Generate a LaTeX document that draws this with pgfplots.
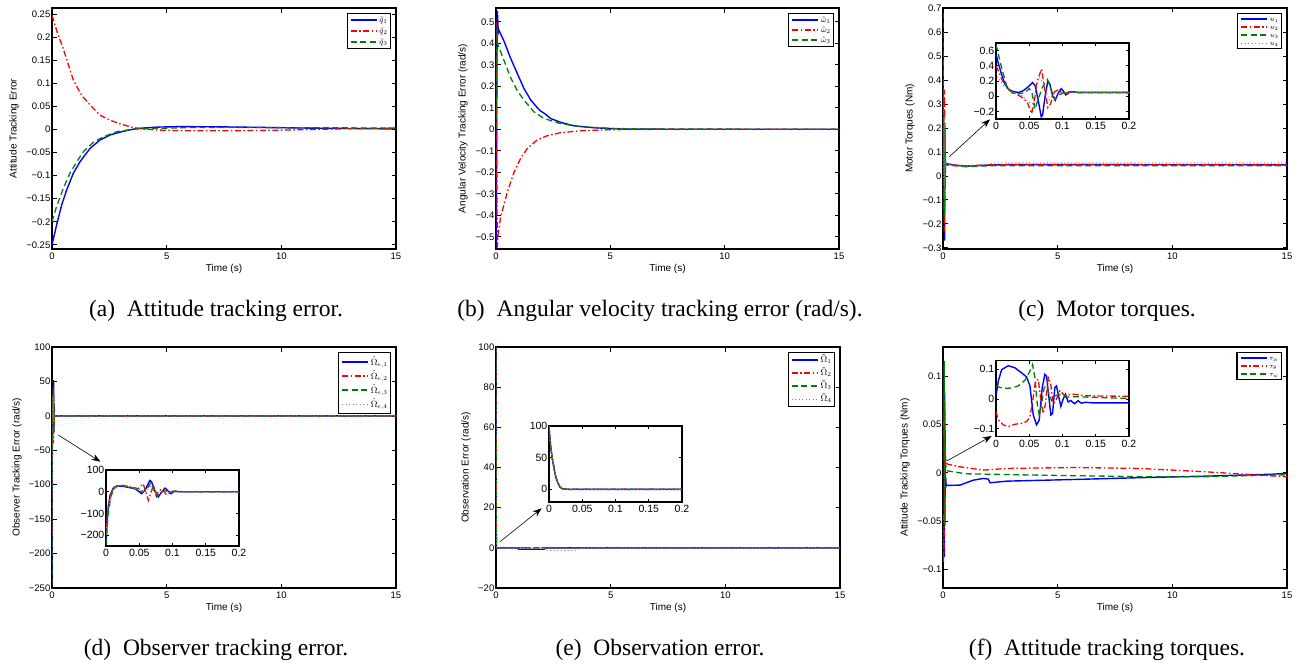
\documentclass[border=0pt]{standalone}
\usepackage[no-math]{fontspec}
\setmainfont{Liberation Sans}
\newfontfamily\capfont{Liberation Serif}
\usepackage{pgfplots}
\pgfplotsset{compat=1.18}
\usepackage{pgfplotstable}
\usetikzlibrary{arrows.meta}
\definecolor{mgreen}{rgb}{0,0.5,0}

% ---------- data (t, value) ----------
\pgfplotstableread{
t v
0 -0.250
0.2 -0.207
0.42 -0.164
0.64 -0.131
0.93 -0.095
1.22 -0.070
1.66 -0.041
2.09 -0.023
2.53 -0.012
3.11 -0.004
3.69 0.002
4.56 0.005
5.5 0.006
7 0.0058
9 0.0045
11 0.003
13 0.002
15 0.001
}\tabaB
\pgfplotstableread{
t v
0 0.247
0.2 0.215
0.49 0.175
0.93 0.107
1.29 0.074
1.66 0.053
2.09 0.031
2.53 0.020
2.97 0.012
3.55 0.004
3.98 0.0007
4.7 -0.0015
6 -0.003
8 -0.003
10 -0.0015
12 0.0005
13.5 0.002
15 0.003
}\tabaR
\pgfplotstableread{
t v
0 -0.200
0.2 -0.167
0.49 -0.128
0.78 -0.095
1.08 -0.070
1.37 -0.048
1.8 -0.028
2.24 -0.016
2.82 -0.005
3.55 0.0007
4.27 0.002
6 0.004
9 0.004
12 0.0035
15 0.003
}\tabaG

\pgfplotstableread{
t v
0 -0.55
0.02 -0.3
0.04 0.3
0.06 0.55
0.08 0.50
0.10 0.45
0.13 0.46
0.35 0.41
0.64 0.33
0.93 0.26
1.22 0.19
1.52 0.136
1.85 0.095
1.95 0.085
2.1 0.075
2.39 0.05
2.83 0.032
3.41 0.016
4.29 0.007
5.5 0.001
8 0
15 0
}\tabbB
\pgfplotstableread{
t v
0 0.50
0.02 0.3
0.04 -0.3
0.06 -0.55
0.09 -0.49
0.2 -0.41
0.5 -0.29
0.79 -0.20
1.08 -0.135
1.37 -0.089
1.8 -0.05
2.24 -0.03
2.83 -0.016
3.7 -0.007
5 -0.002
7 0
15 0
}\tabbR
\pgfplotstableread{
t v
0 0
0.03 0.35
0.05 0.47
0.07 0.40
0.09 0.39
0.35 0.32
0.64 0.24
0.93 0.18
1.22 0.136
1.66 0.081
2.1 0.05
2.83 0.026
3.7 0.012
5 0.004
6.5 0.001
15 0
}\tabbG

\pgfplotstableread{
t v
0 0.56
0.0035 0.43
0.0085 0.285
0.0135 0.157
0.0185 0.094
0.026 0.06
0.034 0.05
0.041 0.072
0.049 0.128
0.055 0.18
0.059 0.136
0.063 -0.034
0.068 -0.27
0.070 -0.25
0.074 0.01
0.078 0.20
0.081 0.157
0.085 0.01
0.089 -0.055
0.093 0.03
0.098 0.10
0.101 0.07
0.105 0.017
0.109 0.043
0.114 0.06
0.124 0.05
0.2 0.05
0.5 0.045
1 0.040
2 0.045
3 0.047
15 0.046
}\tabcB
\pgfplotstableread{
t v
0 0.40
0.005 0.30
0.01 0.2
0.02 0.08
0.03 0.03
0.04 -0.02
0.047 -0.08
0.0535 -0.23
0.057 -0.1
0.062 0.2
0.0685 0.36
0.073 0.1
0.078 -0.15
0.082 -0.1
0.088 0.06
0.093 0.08
0.1 0.04
0.11 0.05
0.2 0.047
0.5 0.045
1 0.042
2 0.046
3 0.047
15 0.047
}\tabcR
\pgfplotstableread{
t v
0 0.68
0.0085 0.37
0.016 0.136
0.024 0.043
0.034 0.03
0.044 0.05
0.05 0.1
0.054 0.05
0.0585 -0.17
0.063 -0.05
0.07 0.12
0.0775 0.22
0.083 0.08
0.0885 -0.04
0.094 0.01
0.1 0.04
0.11 0.06
0.12 0.045
0.2 0.045
0.5 0.042
1 0.038
2 0.042
15 0.042
}\tabcG
\pgfplotstableread{
t v
0 0.3
0.01 0.15
0.02 0.07
0.03 0.04
0.04 0.0
0.05 -0.08
0.055 -0.1
0.06 0.1
0.065 0.25
0.072 0.15
0.08 -0.05
0.088 0.05
0.095 0.08
0.105 0.05
0.2 0.05
0.5 0.045
1 0.04
2 0.048
2.2 0.054
15 0.054
}\tabcK

\pgfplotstableread{
t v
0 -231
0.0025 -93
0.006 -17
0.011 17
0.016 26
0.0236 26
0.0336 20
0.0436 14
0.0536 -9
0.0586 6
0.066 52
0.0687 45
0.0737 1
0.0787 -24
0.0837 -1
0.0887 17
0.0927 6
0.0977 -9
0.1028 2
0.109 0
15 0
}\tabdB
\pgfplotstableread{
t v
0 -170
0.0035 -63
0.0085 -1
0.0135 23
0.0236 29
0.0386 21
0.0486 14
0.056 37
0.0637 -40
0.0712 29
0.076 -9
0.0837 14
0.091 -14
0.101 2
0.11 0
15 0
}\tabdR
\pgfplotstableread{
t v
0 -245
0.003 -110
0.007 -25
0.012 15
0.018 27
0.025 30
0.035 22
0.045 14
0.055 -2
0.06 5
0.0677 42
0.076 -24
0.082 -5
0.088 5
0.095 0
0.105 3
0.115 0
15 0
}\tabdG
\pgfplotstableread{
t v
0 -200
0.003 -80
0.008 0
0.015 22
0.025 27
0.04 18
0.05 10
0.06 0
0.068 30
0.075 -10
0.085 5
0.095 -3
0.11 0
15 0
}\tabdK

\pgfplotstableread{
t v
0 100
0.002 72
0.0045 51
0.007 36
0.01 20
0.0135 9.4
0.017 3
0.021 0.5
0.03 0
0.9 0
1.0 -0.7
2.1 -0.7
2.2 0
15 0
}\tabeB
\pgfplotstableread{
t v
0 100
0.002 74
0.0045 53
0.007 38
0.01 21
0.0135 10
0.017 3.5
0.021 0.8
0.03 0
15 0
}\tabeR
\pgfplotstableread{
t v
0 100
0.002 73
0.0045 52
0.007 37
0.01 21
0.0135 10
0.017 3.2
0.022 0.6
0.03 0
15 0
}\tabeG
\pgfplotstableread{
t v
0 100
0.002 71
0.0045 50
0.007 35
0.01 19
0.0135 9
0.017 2.8
0.021 0.4
0.03 0
2.1 0
2.2 -1.3
3.5 -1.3
3.6 0
15 0
}\tabeK

\pgfplotstableread{
t v
0 0.010
0.0035 0.061
0.0085 0.099
0.0185 0.112
0.0285 0.105
0.0385 0.088
0.046 0.074
0.051 0.044
0.056 -0.054
0.061 -0.087
0.065 -0.071
0.0695 0.039
0.0735 0.083
0.076 0.077
0.0795 0.006
0.0825 -0.054
0.085 -0.049
0.0885 0.039
0.091 0.044
0.0945 0.006
0.0975 -0.025
0.101 0.0
0.1045 0.016
0.1085 -0.01
0.1125 -0.005
0.118 -0.016
0.1235 -0.006
0.1285 -0.014
0.135 -0.011
0.145 -0.013
0.2 -0.013
0.74 -0.0127
1.32 -0.0076
1.76 -0.0058
1.98 -0.0065
2.05 -0.0103
2.78 -0.0086
5.68 -0.0069
8.6 -0.005
11.5 -0.0034
14.4 -0.0014
15 -0.0005
}\tabfB
\pgfplotstableread{
t v
0 -0.043
0.0035 -0.07
0.011 -0.087
0.0185 -0.093
0.0285 -0.085
0.0385 -0.082
0.046 -0.076
0.051 -0.06
0.056 0.006
0.0595 0.061
0.0635 0.066
0.0675 -0.005
0.071 -0.049
0.0745 -0.016
0.0785 0.072
0.082 0.055
0.086 -0.016
0.09 -0.005
0.096 0.028
0.1035 0.011
0.1135 0.017
0.1335 0.011
0.2 0.009
0.74 0.0062
1.76 0.0028
2.78 0.0045
5.68 0.0055
8.6 0.0045
11.5 0.001
15 -0.0041
}\tabfR
\pgfplotstableread{
t v
0 0.044
0.006 0.039
0.0135 0.036
0.0235 0.037
0.0335 0.044
0.0435 0.063
0.051 0.094
0.055 0.116
0.0585 0.072
0.062 -0.016
0.065 -0.054
0.0685 -0.016
0.0725 0.039
0.076 0.044
0.08 0.015
0.0835 -0.005
0.0885 0.011
0.096 0.015
0.1035 0.006
0.1135 0.008
0.2 0.002
1 -0.001
4.2 -0.0024
8.6 -0.004
11.5 -0.004
15 -0.002
}\tabfG

% line styles as plain TikZ styles, so that legend images see them too
\tikzset{
  lb/.style={draw=blue, line width=1.4pt, solid},
  lr/.style={draw=red, line width=1.3pt, dash pattern=on 6pt off 2.5pt on 1.5pt off 2.5pt},
  lg/.style={draw=mgreen, line width=1.3pt, dash pattern=on 6pt off 3.5pt},
  lk/.style={draw=gray, line width=0.9pt, dash pattern=on 1pt off 2.5pt},
}

\pgfplotsset{
  base/.style={
    scale only axis,
    axis line style={line width=1.1pt},
    tick align=inside, xtick pos=both, ytick pos=both,
    tick style={black, line width=0.7pt},
    no markers,
    yticklabel style={inner xsep=1.5pt},
  },
  mainax/.style={
    base, width=344pt, height=241pt,
    major tick length=4.5pt,
    xmin=0, xmax=15, xtick={0,5,10,15}, xticklabels={0,5,10,15},
    ticklabel style={font=\fontsize{9.5}{10}\selectfont},
    xlabel={Time (s)},
    label style={font=\fontsize{10}{11}\selectfont},
    xlabel style={at={(axis description cs:0.5,-0.083)}, anchor=center},
    legend cell align=left,
    legend image code/.code={\draw[##1] (0pt,0pt) -- (26pt,0pt);},
    legend style={at={(1,1)}, anchor=north east, xshift=-5pt, yshift=-5pt,
      draw=black, line width=1.1pt, inner xsep=3pt, inner ysep=1.5pt,
      row sep=0pt, column sep=2pt, nodes={inner sep=0pt}},
  },
  inax/.style={
    base, width=133pt, height=76pt,
    major tick length=3pt,
    xmin=0, xmax=0.2, xtick={0,0.05,0.1,0.15,0.2}, xticklabels={0,0.05,0.1,0.15,0.2},
    ticklabel style={font=\fontsize{10.5}{11}\selectfont},
    axis background/.style={fill=white},
  },
}

\begin{document}
\begin{tikzpicture}
\path[use as bounding box] (0,0) rectangle (1302pt,-664pt);

% (a)
\begin{axis}[mainax, at={(52pt,-249pt)}, anchor=south west,
  ymin=-0.259, ymax=0.263,
  ytick={-0.25,-0.2,-0.15,-0.1,-0.05,0,0.05,0.1,0.15,0.2,0.25},
  yticklabels={−0.25,−0.2,−0.15,−0.1,−0.05,0,0.05,0.1,0.15,0.2,0.25},
  ylabel={Attitude Tracking Error},
  ylabel style={at={(axis description cs:-0.1105,0.5)}, anchor=center},
  legend style={font=\fontsize{8}{8}\selectfont, inner ysep=1pt, nodes={text height=8pt, text depth=3pt}}]
\addplot[lb, forget plot] table[x=t,y=v] {\tabaB};
\addplot[lr, forget plot] table[x=t,y=v] {\tabaR};
\addplot[lg, forget plot] table[x=t,y=v] {\tabaG};
\addlegendimage{lb}\addlegendentry{$\tilde{q}_1$}
\addlegendimage{lr}\addlegendentry{$\tilde{q}_2$}
\addlegendimage{lg}\addlegendentry{$\tilde{q}_3$}
\end{axis}

% (b)
\begin{axis}[mainax, at={(496pt,-249pt)}, anchor=south west, width=343pt,
  ymin=-0.557, ymax=0.564,
  ytick={-0.5,-0.4,-0.3,-0.2,-0.1,0,0.1,0.2,0.3,0.4,0.5},
  yticklabels={−0.5,−0.4,−0.3,−0.2,−0.1,0,0.1,0.2,0.3,0.4,0.5},
  ylabel={Angular Velocity Tracking Error (rad/s)},
  ylabel style={at={(axis description cs:-0.0962,0.5)}, anchor=center},
  legend style={font=\fontsize{8}{8}\selectfont, inner ysep=1.5pt, nodes={text height=7pt, text depth=3pt}}]
\addplot[lb, forget plot] table[x=t,y=v] {\tabbB};
\addplot[lr, forget plot] table[x=t,y=v] {\tabbR};
\addplot[lg, forget plot] table[x=t,y=v] {\tabbG};
\addlegendimage{lb}\addlegendentry{$\tilde{\omega}_1$}
\addlegendimage{lr}\addlegendentry{$\tilde{\omega}_2$}
\addlegendimage{lg}\addlegendentry{$\tilde{\omega}_3$}
\end{axis}

% (c)
\begin{axis}[mainax, at={(943pt,-249pt)}, anchor=south west,
  ymin=-0.305, ymax=0.7,
  ytick={-0.3,-0.2,-0.1,0,0.1,0.2,0.3,0.4,0.5,0.6,0.7},
  yticklabels={−0.3,−0.2,−0.1,0,0.1,0.2,0.3,0.4,0.5,0.6,0.7},
  ylabel={Motor Torques (Nm)},
  ylabel style={at={(axis description cs:-0.0959,0.5)}, anchor=center},
  legend style={font=\fontsize{7.5}{7.5}\selectfont, inner ysep=1.5pt, nodes={text height=6pt, text depth=2pt}}]
\addplot[lb, forget plot] table[x=t,y=v] {\tabcB};
\addplot[lr, forget plot] table[x=t,y=v] {\tabcR};
\addplot[lg, forget plot] table[x=t,y=v] {\tabcG};
\addplot[lk, forget plot] table[x=t,y=v] {\tabcK};
\addlegendimage{lb}\addlegendentry{$u_1$}
\addlegendimage{lr}\addlegendentry{$u_2$}
\addlegendimage{lg}\addlegendentry{$u_3$}
\addlegendimage{lk}\addlegendentry{$u_4$}
\end{axis}
\begin{axis}[inax, at={(996pt,-119pt)}, anchor=south west,
  ymin=-0.3, ymax=0.7,
  ytick={-0.2,0,0.2,0.4,0.6}, yticklabels={−0.2,0,0.2,0.4,0.6}]
\addplot[lb] table[x=t,y=v] {\tabcB};
\addplot[lr] table[x=t,y=v] {\tabcR};
\addplot[lg] table[x=t,y=v] {\tabcG};
\addplot[lk] table[x=t,y=v] {\tabcK};
\end{axis}

% (d)
\begin{axis}[mainax, at={(52pt,-588pt)}, anchor=south west,
  ymin=-250, ymax=100,
  ytick={-250,-200,-150,-100,-50,0,50,100},
  yticklabels={−250,−200,−150,−100,−50,0,50,100},
  ylabel={Observer Tracking Error (rad/s)},
  ylabel style={at={(axis description cs:-0.1017,0.5)}, anchor=center},
  legend style={font=\fontsize{9}{9}\selectfont, inner ysep=2.5pt, nodes={text height=10pt, text depth=4pt}}]
\addplot[lb, forget plot] table[x=t,y=v] {\tabdB};
\addplot[lr, forget plot] table[x=t,y=v] {\tabdR};
\addplot[lg, forget plot] table[x=t,y=v] {\tabdG};
\addplot[lk, forget plot] table[x=t,y=v] {\tabdK};
\addlegendimage{lb}\addlegendentry{$\hat{\Omega}_{e,1}$}
\addlegendimage{lr}\addlegendentry{$\hat{\Omega}_{e,2}$}
\addlegendimage{lg}\addlegendentry{$\hat{\Omega}_{e,3}$}
\addlegendimage{lk}\addlegendentry{$\hat{\Omega}_{e,4}$}
\end{axis}
\begin{axis}[inax, at={(106pt,-546pt)}, anchor=south west,
  ymin=-250, ymax=100,
  ytick={-200,-100,0,100}, yticklabels={−200,−100,0,100}]
\addplot[lb] table[x=t,y=v] {\tabdB};
\addplot[lr] table[x=t,y=v] {\tabdR};
\addplot[lg] table[x=t,y=v] {\tabdG};
\addplot[lk] table[x=t,y=v] {\tabdK};
\end{axis}

% (e)
\begin{axis}[mainax, at={(496pt,-588pt)}, anchor=south west,
  ymin=-20, ymax=100,
  ytick={-20,0,20,40,60,80,100},
  yticklabels={−20,0,20,40,60,80,100},
  ylabel={Observation Error (rad/s)},
  ylabel style={at={(axis description cs:-0.0872,0.5)}, anchor=center},
  legend style={font=\fontsize{9}{9}\selectfont, inner ysep=1pt, nodes={text height=9pt, text depth=4pt}}]
\addplot[lb, forget plot] table[x=t,y=v] {\tabeB};
\addplot[lr, forget plot] table[x=t,y=v] {\tabeR};
\addplot[lg, forget plot] table[x=t,y=v] {\tabeG};
\addplot[lk, forget plot] table[x=t,y=v] {\tabeK};
\addlegendimage{lb}\addlegendentry{$\tilde{\Omega}_1$}
\addlegendimage{lr}\addlegendentry{$\tilde{\Omega}_2$}
\addlegendimage{lg}\addlegendentry{$\tilde{\Omega}_3$}
\addlegendimage{lk}\addlegendentry{$\tilde{\Omega}_4$}
\end{axis}
\begin{axis}[inax, at={(549pt,-502pt)}, anchor=south west,
  ymin=-20, ymax=100,
  ytick={0,50,100}, yticklabels={0,50,100}]
\addplot[lb] table[x=t,y=v] {\tabeB};
\addplot[lr] table[x=t,y=v] {\tabeR};
\addplot[lg] table[x=t,y=v] {\tabeG};
\addplot[lk] table[x=t,y=v] {\tabeK};
\end{axis}

% (f)
\begin{axis}[mainax, at={(943pt,-588pt)}, anchor=south west,
  ymin=-0.119, ymax=0.13,
  ytick={-0.1,-0.05,0,0.05,0.1},
  yticklabels={−0.1,−0.05,0,0.05,0.1},
  ylabel={Attitude Tracking Torques (Nm)},
  ylabel style={at={(axis description cs:-0.1105,0.5)}, anchor=center},
  legend style={font=\fontsize{7.5}{7.5}\selectfont, inner ysep=1.5pt, nodes={text height=6pt, text depth=2pt}}]
\addplot[lb, forget plot] table[x=t,y=v] {\tabfB};
\addplot[lr, forget plot] table[x=t,y=v] {\tabfR};
\addplot[lg, forget plot] table[x=t,y=v] {\tabfG};
\addlegendimage{lb}\addlegendentry{$\tau_\phi$}
\addlegendimage{lr}\addlegendentry{$\tau_\theta$}
\addlegendimage{lg}\addlegendentry{$\tau_\psi$}
\end{axis}
\begin{axis}[inax, at={(996pt,-436.7pt)}, anchor=south west,
  ymin=-0.127, ymax=0.129,
  ytick={-0.1,0,0.1}, yticklabels={−0.1,0,0.1}]
\addplot[lb] table[x=t,y=v] {\tabfB};
\addplot[lr] table[x=t,y=v] {\tabfR};
\addplot[lg] table[x=t,y=v] {\tabfG};
\end{axis}

% zoom arrows
\begin{scope}[line width=0.6pt, -{Stealth[length=9pt,width=6.5pt]}]
\draw (949.3pt,-156.7pt) -- (990pt,-119.3pt);
\draw (58.3pt,-435pt) -- (100.5pt,-461.7pt);
\draw (500pt,-541.7pt) -- (541.7pt,-508.3pt);
\draw (947.3pt,-460.7pt) -- (991.7pt,-436pt);
\end{scope}

% captions
\begin{scope}[every node/.style={font=\capfont\fontsize{23.5}{24}\selectfont, anchor=base}]
\node at (216pt,-316pt) {(a)\hspace{0.25em} Attitude tracking error.};
\node at (660pt,-316pt) {(b)\hspace{0.25em} Angular velocity tracking error (rad/s).};
\node at (1107pt,-316pt) {(c)\hspace{0.25em} Motor torques.};
\node at (216pt,-655pt) {(d)\hspace{0.25em} Observer tracking error.};
\node at (660pt,-655pt) {(e)\hspace{0.25em} Observation error.};
\node at (1107pt,-655pt) {(f)\hspace{0.25em} Attitude tracking torques.};
\end{scope}
\end{tikzpicture}
\end{document}
